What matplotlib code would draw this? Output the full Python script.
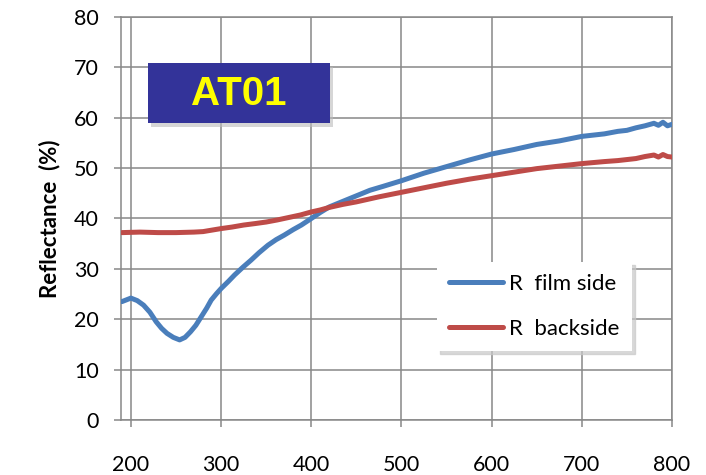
import numpy as np
import matplotlib
matplotlib.use('Agg')
import matplotlib.pyplot as plt
from matplotlib.patches import Rectangle

# data
wl_film = [190, 200, 207, 214, 221, 228, 234, 240, 247, 254, 260, 266, 272, 278, 284, 289, 295, 300,
           308, 315, 324, 333, 342, 352, 361, 370, 380, 389, 400, 410, 420, 435, 450, 465, 480, 500,
           525, 550, 575, 600, 625, 650, 675, 700, 725, 740, 750, 760, 770, 780, 785, 790, 795, 800]
r_film = [23.5, 24.2, 23.7, 22.8, 21.4, 19.5, 18.2, 17.2, 16.4, 15.9, 16.4, 17.5, 18.8, 20.5, 22.2, 23.8, 25.1, 26.1,
          27.5, 28.8, 30.3, 31.7, 33.2, 34.7, 35.8, 36.7, 37.8, 38.7, 40.0, 41.2, 42.3, 43.4, 44.5, 45.6, 46.4, 47.5,
          49.0, 50.3, 51.6, 52.8, 53.7, 54.7, 55.4, 56.3, 56.8, 57.3, 57.5, 58.0, 58.4, 58.9, 58.5, 59.1, 58.4, 58.7]

wl_back = [190, 210, 230, 250, 270, 280, 290, 300, 312, 325, 338, 350, 362, 375, 388, 400, 410, 420,
           435, 450, 475, 500, 525, 550, 575, 600, 625, 650, 675, 700, 725, 740, 750, 760, 770, 780,
           785, 790, 795, 800]
r_back = [37.2, 37.3, 37.2, 37.2, 37.3, 37.4, 37.7, 38.0, 38.3, 38.7, 39.0, 39.3, 39.7, 40.2, 40.7, 41.3, 41.7, 42.2,
          42.8, 43.3, 44.3, 45.2, 46.1, 47.0, 47.8, 48.5, 49.2, 49.9, 50.4, 50.9, 51.3, 51.5, 51.7, 51.9, 52.3, 52.6,
          52.2, 52.7, 52.3, 52.2]

x_ticks = [200, 300, 400, 500, 600, 700, 800]
y_ticks = [0, 10, 20, 30, 40, 50, 60, 70, 80]

grid_col = '#888888'
plt.rcParams['font.family'] = ['Lato', 'DejaVu Sans']

fig = plt.figure(figsize=(7.06, 4.75), dpi=100)
ax = fig.add_axes([0.1714, 0.1158, 0.7804, 0.8484])

ax.plot(wl_film, r_film, color='#4A7EBB', linewidth=3.6, solid_capstyle='round', label='R  film side', zorder=3)
ax.plot(wl_back, r_back, color='#BE4B48', linewidth=3.6, solid_capstyle='round', label='R  backside', zorder=3)

ax.set_xlim(189, 800)
ax.set_ylim(0, 80)
ax.set_xticks(x_ticks)
ax.set_yticks(y_ticks)
ax.grid(True, color=grid_col, linewidth=1.1)
for s in ax.spines.values():
    s.set_color(grid_col)
    s.set_linewidth(1.1)
ax.tick_params(axis='both', colors=grid_col, labelcolor='black', labelsize=15.5, length=5, width=1.1)
ax.tick_params(axis='x', pad=20)
ax.tick_params(axis='y', pad=11)

ax.set_ylabel('Reflectance  (%)', fontsize=16, fontweight='bold', labelpad=10)

# title box with shadow
ax.add_patch(Rectangle((0.055, 0.728), 0.330, 0.149, transform=ax.transAxes,
                       facecolor='#bbbbbb', alpha=0.6, edgecolor='none', zorder=4))
ax.add_patch(Rectangle((0.049, 0.737), 0.330, 0.149, transform=ax.transAxes,
                       facecolor='#333399', edgecolor='none', zorder=5))
ax.text(0.214, 0.809, 'AT01', transform=ax.transAxes, ha='center', va='center',
        fontsize=29, fontweight='bold', color='#FFFF00', family='Liberation Sans', zorder=6)

leg = ax.legend(loc='upper left', bbox_to_anchor=(0.5735, 0.392), fontsize=16,
                frameon=True, fancybox=False, shadow={'color': '#c8c8c8', 'alpha': 0.7},
                handlelength=2.4, labelspacing=1.1, borderpad=0.55, handletextpad=0.3,
                borderaxespad=0)
leg.get_frame().set_edgecolor('none')
leg.get_frame().set_facecolor('white')
leg.get_frame().set_alpha(1)

fig.savefig('out.png', dpi=100)
